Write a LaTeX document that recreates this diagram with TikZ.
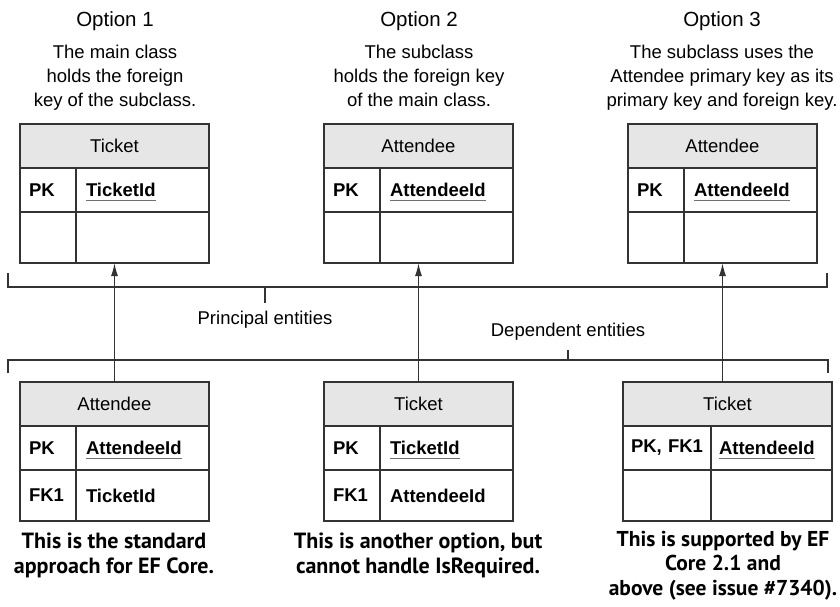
\documentclass[tikz,border=0pt]{standalone}
\usepackage{fontspec}
\setmainfont{Liberation Sans}
\newfontfamily\capfont{PT Sans}
\usetikzlibrary{arrows.meta}
\usetikzlibrary{positioning}

\definecolor{linegray}{HTML}{333333}
\definecolor{headgray}{HTML}{E6E6E6}
\definecolor{keygray}{HTML}{707070}

\newcommand{\bodyfont}{\fontsize{18.5}{24}\selectfont}
\newcommand{\optionfont}{\fontsize{20.5}{24}\selectfont}
\newcommand{\remarkfont}{\capfont\bfseries\fontsize{22}{24.5}\selectfont}
\newcommand{\keyfield}[1]{\setbox0\hbox{#1}\rlap{\smash{\textcolor{keygray}{\rule[-4pt]{\wd0}{1.1pt}}}}\box0}

\begin{document}
\begin{tikzpicture}[
    >={Latex[length=13pt,width=7pt]},
    x=1pt, y=-1pt,
    line width=1.4pt,
    every node/.style={inner sep=0pt, outer sep=0pt, font=\bodyfont},
    head/.style={draw=linegray, fill=headgray, anchor=north west,
        minimum width=189pt, minimum height=44pt},
    keycell/.style={draw=linegray, anchor=north west, align=left,
        inner xsep=9pt, text width=38pt, minimum height=44pt,
        font=\bodyfont\bfseries},
    fieldcell/.style={draw=linegray, anchor=north west, align=left,
        inner xsep=10pt, text width=113pt, minimum height=44pt,
        font=\bodyfont\bfseries},
    emptyrow/.style={minimum height=51pt},
    option/.style={font=\optionfont, anchor=base},
    note/.style={align=center, anchor=north},
    remark/.style={align=center, anchor=north, font=\remarkfont},
    connect/.style={draw=linegray}
]
\useasboundingbox (0,0) rectangle (840,606);

%---------------------------------
% Headings
%---------------------------------

\node[option] (opt1) at (115,26.7) {Option 1};
\node[option] (opt2) at (419,26.7) {Option 2};
\node[option] (opt3) at (722,26.7) {Option 3};

\node[note] (note1) at (115,45) {The main class\\holds the foreign\\key of the subclass.};
\node[note] (note2) at (419,45) {The subclass\\holds the foreign key\\of the main class.};
\node[note] (note3) at (722,45) {The subclass uses the\\Attendee primary key as its\\primary key and foreign key.};

%---------------------------------
% Principal tables
%---------------------------------

% Option 1
\node[head] (t1h) at (20,124) {Ticket};
\node[keycell] (t1k1) at (t1h.south west) {PK};
\node[fieldcell] (t1f1) at (t1k1.north east) {\keyfield{TicketId}};
\node[keycell, emptyrow] (t1k2) at (t1k1.south west) {};
\node[fieldcell, emptyrow] (t1f2) at (t1k2.north east) {};

% Option 2
\node[head] (t2h) at (324,124) {Attendee};
\node[keycell] (t2k1) at (t2h.south west) {PK};
\node[fieldcell] (t2f1) at (t2k1.north east) {\keyfield{AttendeeId}};
\node[keycell, emptyrow] (t2k2) at (t2k1.south west) {};
\node[fieldcell, emptyrow] (t2f2) at (t2k2.north east) {};

% Option 3
\node[head] (t3h) at (628,124) {Attendee};
\node[keycell] (t3k1) at (t3h.south west) {PK};
\node[fieldcell] (t3f1) at (t3k1.north east) {\keyfield{AttendeeId}};
\node[keycell, emptyrow] (t3k2) at (t3k1.south west) {};
\node[fieldcell, emptyrow] (t3f2) at (t3k2.north east) {};

%---------------------------------
% Dependent tables
%---------------------------------

% Option 1
\node[head] (b1h) at (20,382) {Attendee};
\node[keycell] (b1k1) at (b1h.south west) {PK};
\node[fieldcell] (b1f1) at (b1k1.north east) {\keyfield{AttendeeId}};
\node[keycell, emptyrow] (b1k2) at (b1k1.south west) {FK1};
\node[fieldcell, emptyrow] (b1f2) at (b1k2.north east) {TicketId};

% Option 2
\node[head] (b2h) at (324,382) {Ticket};
\node[keycell] (b2k1) at (b2h.south west) {PK};
\node[fieldcell] (b2f1) at (b2k1.north east) {\keyfield{TicketId}};
\node[keycell, emptyrow] (b2k2) at (b2k1.south west) {FK1};
\node[fieldcell, emptyrow] (b2f2) at (b2k2.north east) {AttendeeId};

% Option 3
\node[head, minimum width=209pt] (b3h) at (623,382) {Ticket};
\node[keycell, inner xsep=8pt, text width=72pt] (b3k1) at (b3h.south west) {PK, FK1};
\node[fieldcell, inner xsep=8pt, text width=105pt] (b3f1) at (b3k1.north east) {\keyfield{AttendeeId}};
\node[keycell, emptyrow, inner xsep=8pt, text width=72pt] (b3k2) at (b3k1.south west) {};
\node[fieldcell, emptyrow, inner xsep=8pt, text width=105pt] (b3f2) at (b3k2.north east) {};

%---------------------------------
% Remarks
%---------------------------------

\node[remark] (rem1) at (114,533) {This is the standard\\approach for EF Core.};
\node[remark] (rem2) at (418,533) {This is another option, but\\cannot handle IsRequired.};
\node[remark, font=\remarkfont\fontsize{21.5}{24.5}\selectfont] (rem3) at (723,531) {This is supported by EF\\Core 2.1 and\\above (see issue \#7340).};

%---------------------------------
% Brackets
%---------------------------------

\coordinate (pleft)  at (8,273);
\coordinate (pright) at (827,273);
\coordinate (pbar)   at (265,287);
\node[anchor=north, inner ysep=8pt] (plabel) at (265,303) {Principal entities};
\draw[connect] (pleft) -- ++(0,14) -| (pright);
\draw[connect] (pbar) -- (plabel.north);

\coordinate (dleft)  at (8,373);
\coordinate (dright) at (828,373);
\coordinate (dbar)   at (568,360);
\node[anchor=south, inner ysep=10pt] (dlabel) at (568,350) {Dependent entities};
\draw[connect] (dleft) -- ++(0,-13) -| (dright);
\draw[connect] (dbar) -- (dlabel.south);

%---------------------------------
% Arrows: dependent to principal
%---------------------------------

\draw[connect, ->] (b1h.north -| t1h.south) -- (t1h.south |- t1k2.south);
\draw[connect, ->] (b2h.north -| t2h.south) -- (t2h.south |- t2k2.south);
\draw[connect, ->] (b3h.north -| t3h.south) -- (t3h.south |- t3k2.south);

\end{tikzpicture}
\end{document}
